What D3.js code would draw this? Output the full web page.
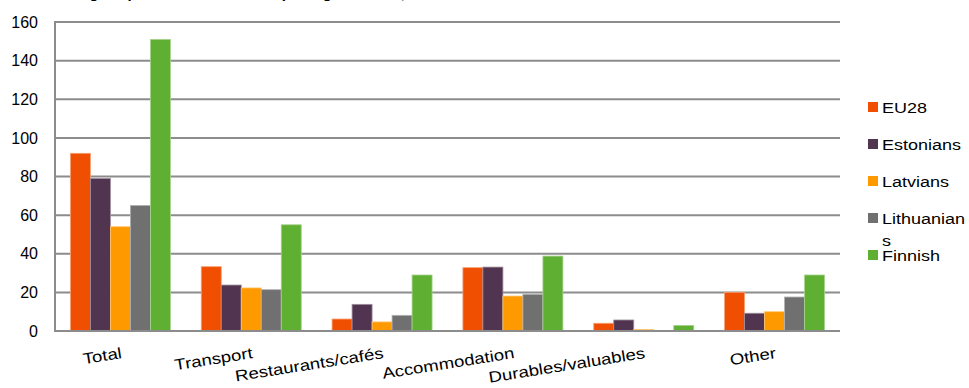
<!DOCTYPE html>
<html>
<head>
<meta charset="utf-8">
<script src="https://cdn.jsdelivr.net/npm/d3@7"></script>
<style>
  html, body { margin: 0; padding: 0; background: #fff; }
  svg { display: block; font-family: "Liberation Sans", Arial, sans-serif; }
</style>
</head>
<body>
<svg id="chart" width="969" height="388"></svg>
<script>
// Expenditure categories and the groups compared, EUR per night
const categories = ["Total", "Transport", "Restaurants/cafés", "Accommodation", "Durables/valuables", "Other"];
const seriesNames = ["EU28", "Estonians", "Latvians", "Lithuanians", "Finnish"];
const eu28 = [92, 33.3, 6.2, 32.8, 4, 20];
const estonians = [79, 23.8, 13.8, 33.1, 5.7, 9.2];
const latvians = [54, 22.3, 4.7, 18.1, 0.8, 10];
const lithuanians = [65, 21.4, 8.1, 19, 0.3, 17.6];
const finnish = [151, 55, 29, 38.8, 2.9, 29];
const yTicks = [0, 20, 40, 60, 80, 100, 120, 140, 160];
const colors = ["#F04E00", "#51344F", "#FF9900", "#707070", "#5FAF32"];
const legendLabels = [["EU28"], ["Estonians"], ["Latvians"], ["Lithuanian", "s"], ["Finnish"]];

const seriesValues = [eu28, estonians, latvians, lithuanians, finnish];

const svg = d3.select("#chart");
const plot = { left: 55, right: 840, top: 22, bottom: 331 };

const y = d3.scaleLinear().domain([0, 160]).range([plot.bottom, plot.top]);
const x0 = d3.scaleBand().domain(categories).range([plot.left, plot.right])
  .paddingInner(0.2357).paddingOuter(0.11785);
const x1 = d3.scaleBand().domain(seriesNames).range([0, x0.bandwidth()]);

// Title (runs off the top edge)
svg.append("text")
  .attr("x", 48).attr("y", -2)
  .attr("font-size", 15).attr("font-weight", "bold").attr("fill", "#000")
  .text("Average expenditure of a tourist per night in 2015, EUR");

// Horizontal gridlines
svg.append("g").selectAll("line").data(yTicks.filter(t => t > 0)).join("line")
  .attr("x1", plot.left).attr("x2", plot.right)
  .attr("y1", d => y(d)).attr("y2", d => y(d))
  .attr("stroke", "#8c8c8c").attr("stroke-width", 2);

// Y axis
const yAxis = svg.append("g").attr("transform", `translate(${plot.left},0)`)
  .call(d3.axisLeft(y).tickValues(yTicks).tickSize(0).tickPadding(17));
yAxis.select(".domain").remove();
yAxis.selectAll("text").attr("font-size", 16).attr("fill", "#000")
  .attr("font-family", "Liberation Sans, Arial, sans-serif");

// Bars
const groups = svg.append("g").selectAll("g").data(categories).join("g")
  .attr("transform", d => `translate(${x0(d)},0)`);
groups.selectAll("rect")
  .data((c, i) => seriesNames.map((s, j) => ({ s, j, v: seriesValues[j][i] })))
  .join("rect")
  .attr("x", d => x1(d.s))
  .attr("width", x1.bandwidth())
  .attr("y", d => y(d.v))
  .attr("height", d => y(0) - y(d.v))
  .attr("fill", d => colors[d.j])
  .attr("stroke", d => d3.interpolateRgb(colors[d.j], "#fff")(0.45))
  .attr("stroke-width", 0.8);

// Axis frame: left and bottom lines
svg.append("line").attr("x1", plot.left).attr("x2", plot.left)
  .attr("y1", plot.top - 1).attr("y2", plot.bottom + 1)
  .attr("stroke", "#8c8c8c").attr("stroke-width", 2);
svg.append("line").attr("x1", plot.left - 1).attr("x2", plot.right)
  .attr("y1", plot.bottom).attr("y2", plot.bottom)
  .attr("stroke", "#8c8c8c").attr("stroke-width", 2);

// Category labels, slanted
svg.append("g").selectAll("text").data(categories).join("text")
  .attr("text-anchor", "end")
  .attr("font-size", 15.5).attr("fill", "#000")
  .attr("transform", d => `translate(${x0(d) + x0.bandwidth() / 2 + 2},358) rotate(-9) scale(1.2,1)`)
  .text(d => d);

// Legend
const legend = svg.append("g").selectAll("g").data(seriesNames).join("g")
  .attr("transform", (d, i) => `translate(868,${107 + i * 37})`);
legend.append("rect").attr("x", 0).attr("y", -5).attr("width", 10).attr("height", 10)
  .attr("fill", (d, i) => colors[i]);
legend.append("text")
  .attr("transform", "translate(14,6) scale(1.2,1)")
  .attr("font-size", 15).attr("fill", "#000")
  .selectAll("tspan").data((d, i) => legendLabels[i]).join("tspan")
  .attr("x", 0).attr("dy", (d, k) => k === 0 ? 0 : 22)
  .text(d => d);
</script>
</body>
</html>
